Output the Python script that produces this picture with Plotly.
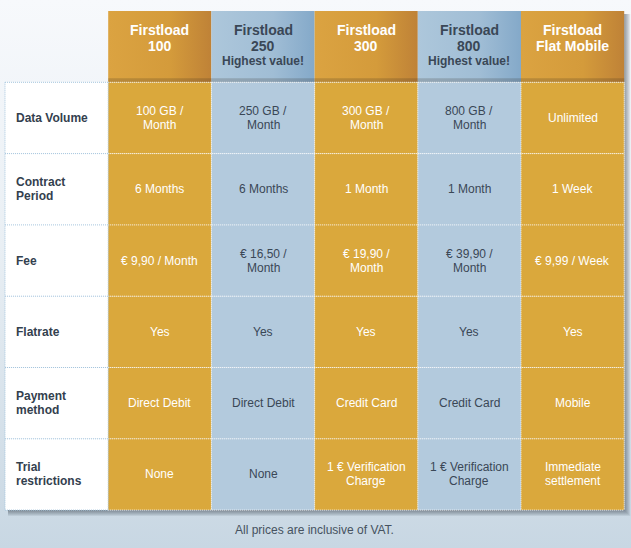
import plotly.graph_objects as go

# ---------------- data ----------------
plan_titles = [["Firstload", "100"], ["Firstload", "250"], ["Firstload", "300"],
               ["Firstload", "800"], ["Firstload", "Flat Mobile"]]
plan_badges = ["", "Highest value!", "", "Highest value!", ""]
plan_highlight = [False, True, False, True, False]

row_labels = [["Data Volume"], ["Contract", "Period"], ["Fee"], ["Flatrate"],
              ["Payment", "method"], ["Trial", "restrictions"]]

data_volume = [["100 GB /", "Month"], ["250 GB /", "Month"], ["300 GB /", "Month"],
               ["800 GB /", "Month"], ["Unlimited"]]
contract_period = [["6 Months"], ["6 Months"], ["1 Month"], ["1 Month"], ["1 Week"]]
fee = [["€ 9,90 / Month"], ["€ 16,50 /", "Month"], ["€ 19,90 /", "Month"],
       ["€ 39,90 /", "Month"], ["€ 9,99 / Week"]]
flatrate = [["Yes"], ["Yes"], ["Yes"], ["Yes"], ["Yes"]]
payment_method = [["Direct Debit"], ["Direct Debit"], ["Credit Card"], ["Credit Card"], ["Mobile"]]
trial_restrictions = [["None"], ["None"], ["1 € Verification", "Charge"],
                      ["1 € Verification", "Charge"], ["Immediate", "settlement"]]
body_rows = [data_volume, contract_period, fee, flatrate, payment_method, trial_restrictions]

footnote = "All prices are inclusive of VAT."

# ---------------- styles ----------------
FONT = "Liberation Sans, Arial, Helvetica, sans-serif"
W_PX, H_PX = 631, 548
COL_W, ROW_H, LEFT, TOP = 103.2, 71.3, 5, 11

ORANGE = "#daa83c"
BLUE = "#b3cadd"
ORANGE_HEAD = [[0, "#dba341"], [0.6, "#d49b3b"], [1, "#bf8237"]]
BLUE_HEAD = [[0, "#adc7db"], [0.6, "#a0bdd5"], [1, "#84a9c9"]]
DARK_TXT = "#3a4756"
LABEL_TXT = "#33404e"
DOT_WHITE = "rgba(255,255,255,0.95)"
DOT_BLUE = "#a6c6de"

xr = [-0.5 - LEFT / COL_W, -0.5 + (W_PX - LEFT) / COL_W]
yr = [-0.5 + (H_PX - TOP) / ROW_H, -0.5 - TOP / ROW_H]  # reversed
px_x = 1 / COL_W
px_y = 1 / ROW_H

n_cols = len(plan_titles)
n_rows = len(row_labels)

fig = go.Figure()

# background gradient
fig.add_trace(go.Scatter(
    x=[xr[0], xr[1], xr[1], xr[0], xr[0]],
    y=[yr[1], yr[1], yr[0], yr[0], yr[1]],
    mode="lines", line=dict(width=0), fill="toself",
    fillgradient=dict(type="vertical", start=yr[1], stop=yr[0],
                      colorscale=[[0, "#f7f9fc"], [0.45, "#e9eff4"], [1, "#c8d7e3"]]),
    hoverinfo="skip", showlegend=False))

# header cells (gradient)
for j in range(n_cols):
    c = j + 1
    fig.add_trace(go.Scatter(
        x=[c - 0.5, c + 0.5, c + 0.5, c - 0.5, c - 0.5],
        y=[-0.5, -0.5, 0.5, 0.5, -0.5],
        mode="lines", line=dict(width=0), fill="toself",
        fillgradient=dict(type="horizontal", start=c - 0.5, stop=c + 0.5,
                          colorscale=BLUE_HEAD if plan_highlight[j] else ORANGE_HEAD),
        hoverinfo="skip", showlegend=False))

shapes = []
# shadow (outside the table only)
right_edge = n_cols + 0.5
bottom_edge = n_rows + 0.5
for k in range(1, 7):
    a = 0.085
    shapes.append(dict(type="rect", layer="above", line_width=0, fillcolor=f"rgba(40,50,60,{a})",
                       x0=right_edge, x1=right_edge + k * px_x,
                       y0=-0.5 + 3 * px_y, y1=bottom_edge + k * px_y))
    shapes.append(dict(type="rect", layer="above", line_width=0, fillcolor=f"rgba(40,50,60,{a})",
                       x0=-0.5 + 3 * px_x, x1=right_edge,
                       y0=bottom_edge, y1=bottom_edge + k * px_y))

# body cells
for i in range(n_rows):
    r = i + 1
    shapes.append(dict(type="rect", layer="above", line_width=0, fillcolor="white",
                       x0=-0.5, x1=0.5, y0=r - 0.5, y1=r + 0.5))
    for j in range(n_cols):
        c = j + 1
        shapes.append(dict(type="rect", layer="above", line_width=0,
                           fillcolor=BLUE if plan_highlight[j] else ORANGE,
                           x0=c - 0.5, x1=c + 0.5, y0=r - 0.5, y1=r + 0.5))

# darker band at bottom of header
shapes.append(dict(type="rect", layer="above", line_width=0, fillcolor="rgba(50,40,30,0.2)",
                   x0=0.5, x1=right_edge, y0=0.5 - 4 * px_y, y1=0.5))

# dotted grid lines
DASH = "1px,1px"
for i in range(n_rows + 1):
    y = i + 0.5
    shapes.append(dict(type="line", layer="above", x0=-0.5, x1=0.5, y0=y, y1=y,
                       line=dict(color=DOT_BLUE, width=1, dash=DASH)))
    shapes.append(dict(type="line", layer="above", x0=0.5, x1=right_edge, y0=y, y1=y,
                       line=dict(color=DOT_WHITE, width=1, dash=DASH)))
for j in range(n_cols + 2):
    x = j - 0.5
    col = DOT_BLUE if j <= 1 else DOT_WHITE
    shapes.append(dict(type="line", layer="above", x0=x, x1=x, y0=0.5, y1=bottom_edge,
                       line=dict(color=col, width=1, dash=DASH)))

annotations = []
# header text
for j in range(n_cols):
    c = j + 1
    color = DARK_TXT if plan_highlight[j] else "white"
    lines = plan_titles[j]
    shifts = [16.6, 0.9]
    for t, s in zip(lines, shifts):
        annotations.append(dict(x=c, y=0, text=t, showarrow=False, yshift=s,
                                font=dict(family=FONT, size=14, color=color, weight="bold")))
    if plan_badges[j]:
        annotations.append(dict(x=c, y=0, text=plan_badges[j], showarrow=False, yshift=-14.4,
                                font=dict(family=FONT, size=12, color=color, weight="bold")))

LINE = 14
# row labels
for i, lab in enumerate(row_labels):
    r = i + 1
    n = len(lab)
    for k, t in enumerate(lab):
        annotations.append(dict(x=-0.5, y=r, text=t, showarrow=False, xanchor="left", xshift=9,
                                yshift=-(k - (n - 1) / 2) * LINE,
                                font=dict(family=FONT, size=12, color=LABEL_TXT, weight="bold")))
# body text
for i, row in enumerate(body_rows):
    r = i + 1
    for j, cell in enumerate(row):
        c = j + 1
        color = DARK_TXT if plan_highlight[j] else "white"
        n = len(cell)
        for k, t in enumerate(cell):
            annotations.append(dict(x=c, y=r, text=t, showarrow=False,
                                    yshift=-(k - (n - 1) / 2) * LINE,
                                    font=dict(family=FONT, size=12, color=color)))

annotations.append(dict(x=(n_cols) / 2, y=bottom_edge, text=footnote, showarrow=False,
                        yshift=-20, font=dict(family=FONT, size=12, color="#465260")))

fig.update_layout(
    width=W_PX, height=H_PX, margin=dict(l=0, r=0, t=0, b=0),
    paper_bgcolor="#eef2f6", plot_bgcolor="#eef2f6",
    xaxis=dict(range=xr, visible=False, fixedrange=True),
    yaxis=dict(range=yr, visible=False, fixedrange=True),
    shapes=shapes, annotations=annotations, showlegend=False,
)

fig.write_html("out.html", config={"displayModeBar": False},
               post_script="document.body.style.margin='0';document.body.style.overflow='hidden';")
